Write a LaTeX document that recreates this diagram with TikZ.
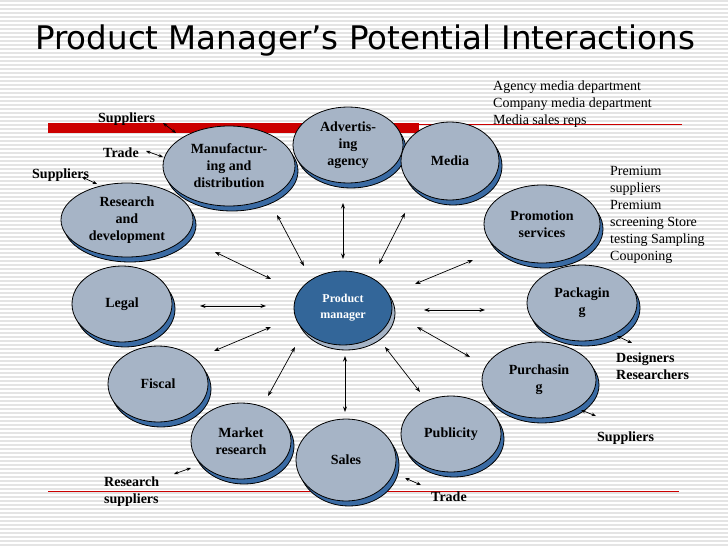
\documentclass[tikz,border=0pt]{standalone}
\usepackage{fontspec}
\setmainfont{Liberation Serif}
\newfontfamily\titlefont{DejaVu Sans}
\usetikzlibrary{shapes.geometric,shadows,arrows.meta}
\definecolor{ovalgray}{RGB}{166,180,198}
\definecolor{shadowblue}{RGB}{58,107,164}
\definecolor{pmblue}{RGB}{51,102,153}
\definecolor{barred}{RGB}{204,0,0}
\definecolor{stripe}{RGB}{228,228,228}
\tikzset{
  oval/.style={ellipse, draw=black, line width=0.8pt, fill=ovalgray, inner sep=0pt,
    align=center, font=\fontsize{14}{17}\selectfont\bfseries,
    general shadow={shadow xshift=3pt, shadow yshift=-5pt, fill=shadowblue, draw=black, line width=0.8pt}},
  pmoval/.style={ellipse, draw=black, line width=0.8pt, fill=pmblue, inner sep=0pt,
    align=center, text=white, font=\fontsize{12}{16}\selectfont\bfseries,
    general shadow={shadow xshift=3pt, shadow yshift=-5pt, fill=ovalgray, draw=black, line width=0.8pt}},
  spoke/.style={<->, >={Stealth[length=5.5pt,width=4pt]}, line width=0.7pt},
  ext/.style={<->, >={Stealth[length=4.5pt,width=3.5pt]}, line width=0.7pt},
  lbl/.style={font=\fontsize{14}{17}\selectfont\bfseries, align=left, inner sep=0pt},
  plain/.style={font=\fontsize{14}{17}\selectfont, align=left, inner sep=0pt},
}
\begin{document}
\begin{tikzpicture}[x=1pt,y=-1pt]
\useasboundingbox (0,0) rectangle (728,546);
\fill[white] (0,0) rectangle (728,546);
\foreach \i in {0,...,136} {
  \draw[stripe, line width=1.1pt] (0,{1+4*\i}) -- (728,{1+4*\i});
}
% title
\node[anchor=base west, inner sep=0pt, font=\titlefont\fontsize{32.5}{38}\selectfont] (title) at (35,49) {Product Manager’s Potential Interactions};
% red lines
\fill[barred] (48,123) rectangle (419,133);
\draw[barred, line width=0.8pt] (419,124) -- (682,124);
\draw[barred, line width=0.8pt] (48,491) -- (679,491);

% ovals
\node[oval, minimum width=132, minimum height=80] (manuf) at (229,166) {Manufactur-\\ing and\\distribution};
\node[oval, minimum width=110, minimum height=76] (adv) at (348,145) {Advertis-\\ing\\agency};
\node[oval, minimum width=98, minimum height=78] (media) at (450,161) {Media};
\node[oval, minimum width=116, minimum height=78] (promo) at (542,224) {Promotion\\services};
\node[oval, minimum width=132, minimum height=74] (rd) at (127,220) {Research\\and\\development};
\node[oval, minimum width=100, minimum height=76] (legal) at (122,304) {Legal};
\node[oval, minimum width=100, minimum height=76] (fiscal) at (158,384) {Fiscal};
\node[oval, minimum width=100, minimum height=76] (market) at (241,441) {Market\\research};
\node[oval, minimum width=100, minimum height=82] (sales) at (346,460) {Sales};
\node[oval, minimum width=110, minimum height=76] (pack) at (582,303) {Packagin\\g};
\node[oval, minimum width=114, minimum height=76] (purch) at (539,380) {Purchasin\\g};
\node[oval, minimum width=100, minimum height=76] (pub) at (451,434) {Publicity};
\node[pmoval, minimum width=98, minimum height=74] (pm) at (343,308) {Product\\manager};

% spokes
\draw[spoke] (277,215) -- (304,266);
\draw[spoke] (343,203) -- (343,259);
\draw[spoke] (405,213) -- (379,264);
\draw[spoke] (473,260) -- (415,284);
\draw[spoke] (424,310) -- (485,310);
\draw[spoke] (417,327) -- (470,357);
\draw[spoke] (385,347) -- (420,392);
\draw[spoke] (345,356) -- (345,412);
\draw[spoke] (295,347) -- (268,396);
\draw[spoke] (271,327) -- (214,351);
\draw[spoke] (200,306) -- (266,306);
\draw[spoke] (215,252) -- (271,279);

% outer labels
\node[lbl, anchor=base west] (sup1) at (98,122) {Suppliers};
\node[lbl, anchor=base west] (trade1) at (103,157) {Trade};
\node[lbl, anchor=base west] (sup2) at (32,178) {Suppliers};
\node[plain, anchor=north west] (mediatxt) at (493,81) {Agency media department\\Company media department\\Media sales reps};
\node[plain, anchor=north west] (premtxt) at (610,166) {Premium\\suppliers\\Premium\\screening Store\\testing Sampling\\Couponing};
\node[lbl, anchor=north west] (design) at (616,353) {Designers\\Researchers};
\node[lbl, anchor=base west] (sup3) at (597,441) {Suppliers};
\node[lbl, anchor=base west] (trade2) at (431,501) {Trade};
\node[lbl, anchor=north west] (ressup) at (104,477) {Research\\suppliers};

\coordinate (e1a) at (163,123); \coordinate (e1b) at (176,133);
\coordinate (e2a) at (146,151); \coordinate (e2b) at (163,157);
\coordinate (e3a) at (82,177);  \coordinate (e3b) at (97,184);
\coordinate (e4a) at (617,336); \coordinate (e4b) at (632,343);
\coordinate (e5a) at (581,410); \coordinate (e5b) at (596,416);
\coordinate (e6a) at (405,478); \coordinate (e6b) at (421,485);
\coordinate (e7a) at (174,474); \coordinate (e7b) at (191,468);
\draw[ext] (e1a) -- (e1b);
\draw[ext] (e2a) -- (e2b);
\draw[ext] (e3a) -- (e3b);
\draw[ext] (e4a) -- (e4b);
\draw[ext] (e5a) -- (e5b);
\draw[ext] (e6a) -- (e6b);
\draw[ext] (e7a) -- (e7b);
\end{tikzpicture}
\end{document}
